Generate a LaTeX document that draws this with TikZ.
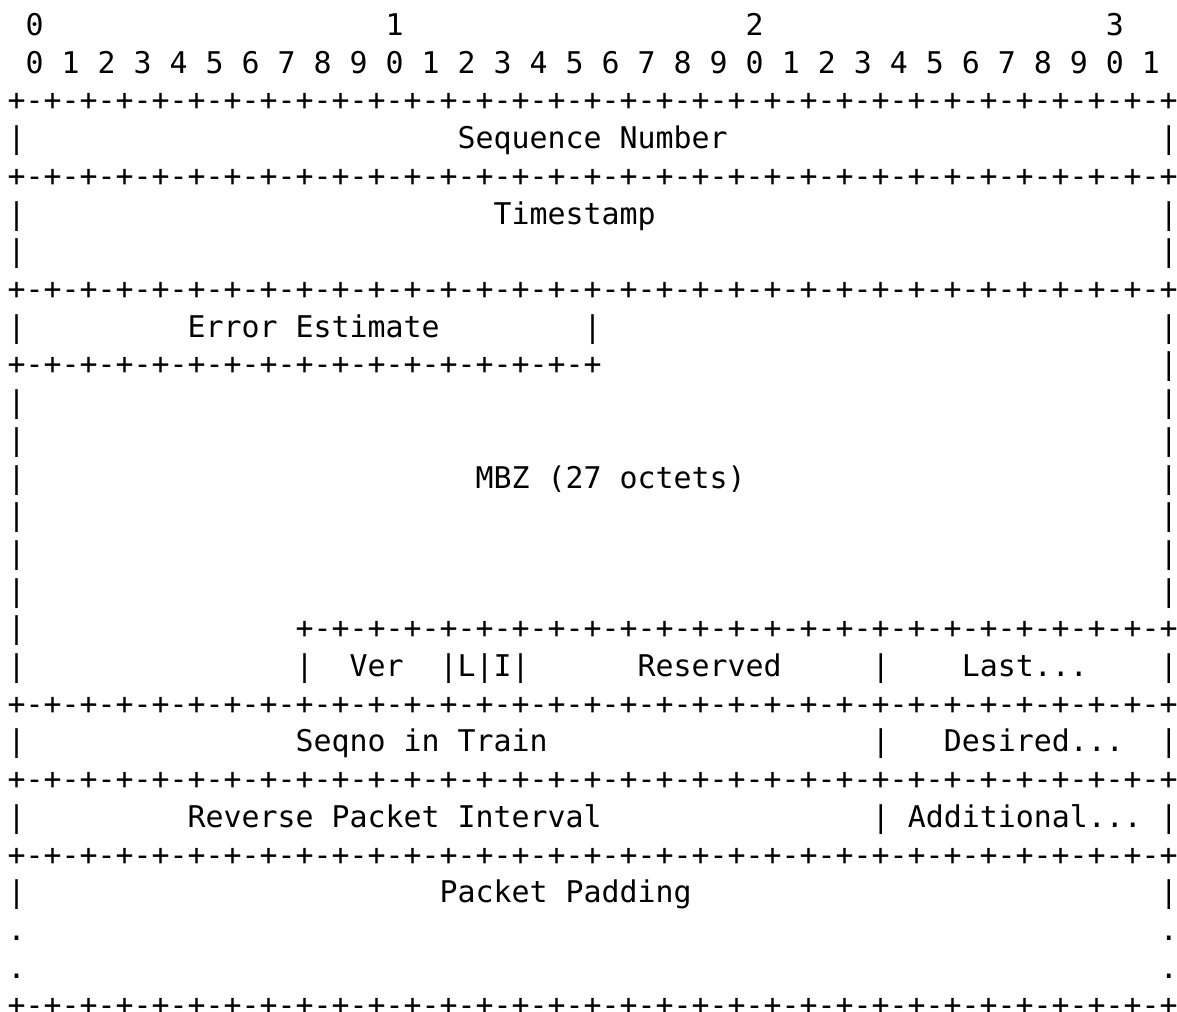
\documentclass[tikz,border=0pt]{standalone}
\usepackage{fontspec}
\newfontfamily\asciimono{DejaVu Sans Mono}
\def\bfull{+-+-+-+-+-+-+-+-+-+-+-+-+-+-+-+-+-+-+-+-+-+-+-+-+-+-+-+-+-+-+-+-+}
\def\bhalf{+-+-+-+-+-+-+-+-+-+-+-+-+-+-+-+-+}
\def\bthree{+-+-+-+-+-+-+-+-+-+-+-+-+-+-+-+-+-+-+-+-+-+-+-+-+}
\begin{document}
\begin{tikzpicture}[x=6.0205pt,y=-12.609pt,
  ch/.style={anchor=base west,inner sep=0pt,outer sep=0pt,text=black,
    font=\asciimono\fontsize{10}{12}\selectfont}]
\useasboundingbox[fill=white] (-2.575pt,11.90pt) rectangle (391.075pt,-326.56pt);
% header row 1
\foreach \c/\t in {1/0,21/1,41/2,61/3}
  \node[ch] (h\c) at (\c,0) {\t};
% header row 2
\foreach \i [evaluate=\i as \d using {int(mod(\i,10))}] in {0,...,31}
  \node[ch] (d\i) at ({1+2*\i},1) {\d};
% borders
\foreach \r in {3,5,8,19,21,23,27}
  \node[ch] (b\r) at (0,\r-1) {\bfull};
\node[ch] (b10) at (0,9) {\bhalf};
\node[ch] (b17) at (16,16) {\bthree};
% vertical bars
\foreach \r in {4,6,7,9,11,12,13,14,15,16,18,20,22,24}{
  \node[ch] (pl\r) at (0,\r-1) {|};
  \node[ch] (pr\r) at (64,\r-1) {|};
}
\node[ch] (pr10) at (64,9) {|};
\node[ch] (pl17) at (0,16) {|};
\foreach \r/\c in {9/32,18/16,18/24,18/26,18/28,18/48,20/48,22/48}
  \node[ch] (p\r-\c) at (\c,\r-1) {|};
% continuation dots
\foreach \r in {25,26}{
  \node[ch] (dl\r) at (0,\r-1) {.};
  \node[ch] (dr\r) at (64,\r-1) {.};
}
% field labels
\node[ch] (seq) at (25,3) {Sequence Number};
\node[ch] (ts) at (27,5) {Timestamp};
\node[ch] (err) at (10,8) {Error Estimate};
\node[ch] (mbz) at (26,12) {MBZ (27 octets)};
\node[ch] (ver) at (19,17) {Ver};
\node[ch] (lf) at (25,17) {L};
\node[ch] (if) at (27,17) {I};
\node[ch] (res) at (35,17) {Reserved};
\node[ch] (last) at (53,17) {Last...};
\node[ch] (sqt) at (16,19) {Seqno in Train};
\node[ch] (des) at (52,19) {Desired...};
\node[ch] (rpi) at (10,21) {Reverse Packet Interval};
\node[ch] (add) at (50,21) {Additional...};
\node[ch] (pad) at (24,23) {Packet Padding};
\end{tikzpicture}
\end{document}
